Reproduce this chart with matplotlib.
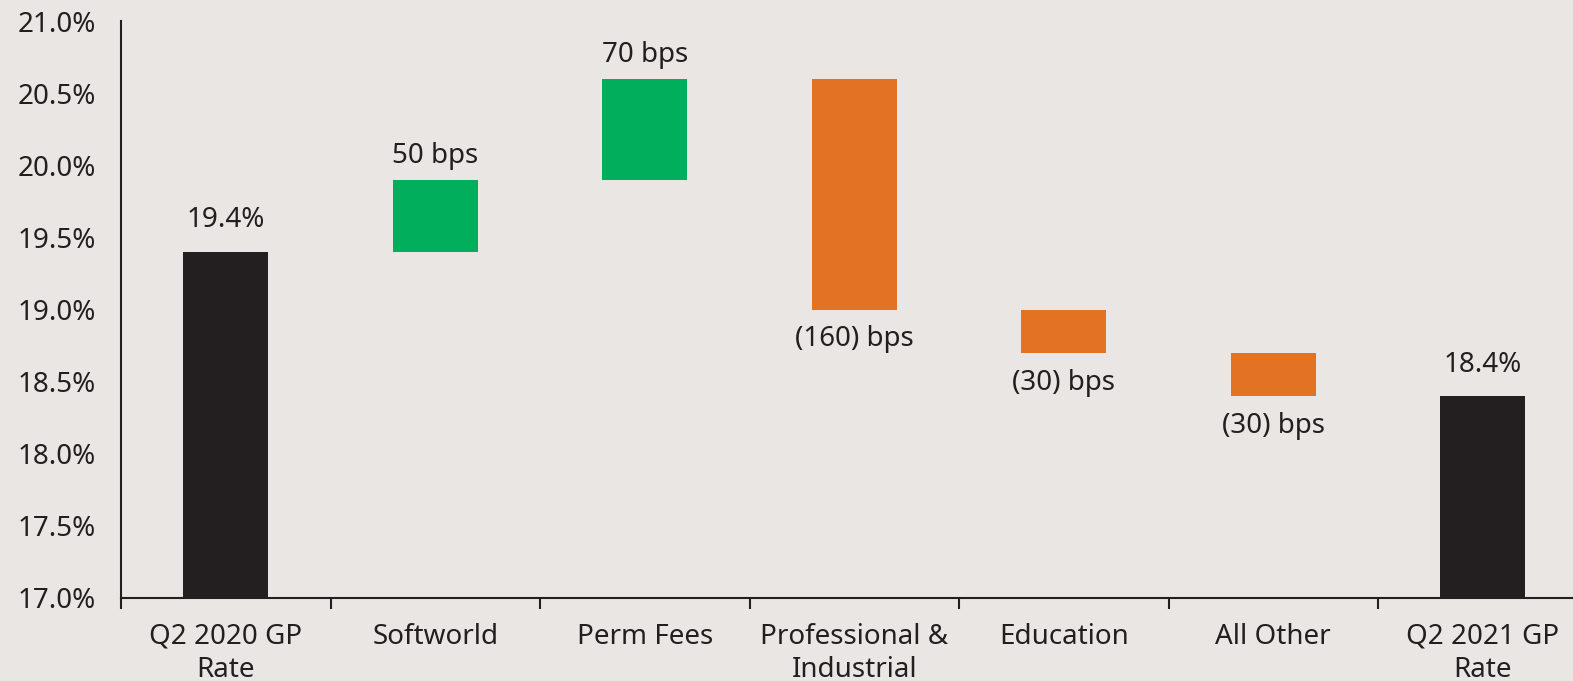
import numpy as np
import matplotlib.pyplot as plt

plt.rcParams['font.family'] = ['Noto Sans', 'DejaVu Sans']

categories = ["Q2 2020 GP\nRate", "Softworld", "Perm Fees", "Professional &\nIndustrial",
              "Education", "All Other", "Q2 2021 GP\nRate"]
start_rate = 19.4
changes_bps = [50, 70, -160, -30, -30]
end_rate = 18.4

bg = "#EAE6E3"
dark = "#231F20"
green = "#00AE5B"
orange = "#E37222"

fig = plt.figure(figsize=(15.73, 6.81), dpi=100, facecolor=bg)
ax = fig.add_axes([121 / 1573, 1 - 598 / 681, 1466.5 / 1573, 577 / 681])
ax.set_facecolor(bg)

x = np.arange(len(categories))
w = 0.405
fs = 20

# totals
ax.bar(x[0], start_rate - 17, bottom=17, width=w, color=dark)
ax.bar(x[-1], end_rate - 17, bottom=17, width=w, color=dark)
ax.text(x[0], start_rate + 0.12, f"{start_rate:.1f}%", ha="center", va="bottom", fontsize=fs, color=dark)
ax.text(x[-1], end_rate + 0.12, f"{end_rate:.1f}%", ha="center", va="bottom", fontsize=fs, color=dark)

# steps
level = start_rate
for i, c in enumerate(changes_bps):
    d = c / 100
    xi = x[i + 1]
    if d > 0:
        ax.bar(xi, d, bottom=level, width=w, color=green)
        ax.text(xi, level + d + 0.07, f"{c} bps", ha="center", va="bottom", fontsize=fs, color=dark)
    else:
        ax.bar(xi, d, bottom=level, width=w, color=orange)
        ax.text(xi, level + d - 0.11, f"({-c}) bps", ha="center", va="top", fontsize=fs, color=dark)
    level += d

ax.set_xlim(-0.5, len(categories) - 0.5)
ax.set_ylim(17, 21)
ax.set_yticks(np.arange(17, 21.01, 0.5))
ax.set_yticklabels([f"{v:.1f}%" for v in np.arange(17, 21.01, 0.5)], fontsize=fs, color=dark)
ax.tick_params(axis="y", length=0, pad=18)

ax.set_xticks(np.arange(-0.5, len(categories), 1.0))
ax.set_xticklabels([])
ax.set_xticks(x, minor=True)
ax.set_xticklabels(categories, minor=True, fontsize=fs, color=dark, linespacing=1.25)
ax.tick_params(axis="x", which="major", length=8, width=1.5, color=dark, direction="out")
ax.tick_params(axis="x", which="minor", length=0, pad=18)

for s in ["top", "right"]:
    ax.spines[s].set_visible(False)
for s in ["left", "bottom"]:
    ax.spines[s].set_color(dark)
    ax.spines[s].set_linewidth(1.5)

fig.savefig("out.png", dpi=100, facecolor=bg)
